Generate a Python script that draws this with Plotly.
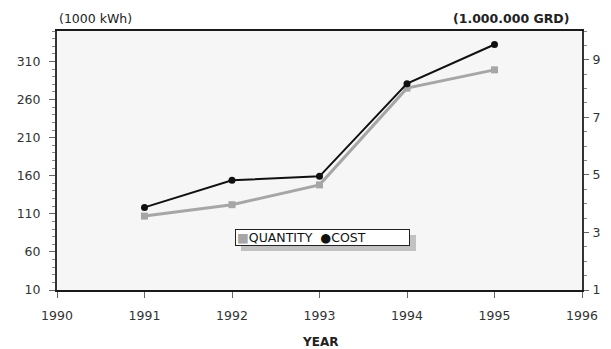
import plotly.graph_objects as go

years = [1991, 1992, 1993, 1994, 1995]
quantity = [107, 122, 148, 275, 299]      # 1000 kWh (left axis)
cost = [3.87, 4.81, 4.95, 8.17, 9.53]     # 1.000.000 GRD (right axis)
x_ticks = [1990, 1991, 1992, 1993, 1994, 1995, 1996]
left_ticks = [10, 60, 110, 160, 210, 260, 310]
right_ticks = [1, 3, 5, 7, 9]

font_family = "DejaVu Sans, Verdana, sans-serif"
gray = "#a6a6a6"
black = "#111111"

fig = go.Figure()
fig.add_trace(go.Scatter(
    x=years, y=quantity, name="QUANTITY", mode="lines+markers",
    line=dict(color=gray, width=3),
    marker=dict(symbol="square", size=7, color=gray),
    yaxis="y", showlegend=False))
fig.add_trace(go.Scatter(
    x=years, y=cost, name="COST", mode="lines+markers",
    line=dict(color=black, width=2),
    marker=dict(symbol="circle", size=7, color=black),
    yaxis="y2", showlegend=False))

tickfont = dict(family=font_family, size=12.5, color="#333333")

# The page body has an 8px margin, so the figure is sized/margined to compensate.
fig.update_layout(
    width=603, height=341,
    margin=dict(l=49, r=29, t=23, b=59, autoexpand=False),
    paper_bgcolor="white", plot_bgcolor="#f6f6f6",
    font=dict(family=font_family, size=12, color="#222222"),
    xaxis=dict(range=[1990, 1996], tickvals=x_ticks,
               ticktext=[str(v) for v in x_ticks],
               ticks="outside", ticklen=6, tickcolor="#666",
               ticklabelstandoff=7, automargin=False,
               showgrid=False, zeroline=False, showline=True,
               linecolor="#1a1a1a", linewidth=2, mirror=True,
               tickfont=tickfont),
    yaxis=dict(range=[10, 350], tickvals=left_ticks,
               ticks="outside", ticklen=6, tickcolor="#666",
               ticklabelstandoff=6, automargin=False,
               minor=dict(dtick=10, tick0=10, ticks="outside", ticklen=3, tickcolor="#888"),
               showgrid=False, zeroline=False, showline=True,
               linecolor="#333", linewidth=2, mirror=True,
               tickfont=tickfont),
    yaxis2=dict(range=[1, 10], tickvals=right_ticks, overlaying="y", side="right",
                ticks="outside", ticklen=5, tickcolor="#666",
                ticklabelstandoff=1, automargin=False,
                minor=dict(dtick=0.5, tick0=1, ticks="outside", ticklen=3, tickcolor="#888"),
                showgrid=False, zeroline=False, showline=True,
                linecolor="#333", linewidth=2,
                tickfont=tickfont),
    showlegend=False,
)

# legend drop shadow
fig.add_shape(type="rect", xref="paper", yref="paper",
              x0=(241 - 57) / 525, x1=(416 - 57) / 525,
              y0=(290 - 251) / 259, y1=(290 - 235) / 259,
              fillcolor="#c2c2c2", line=dict(width=0), layer="above")

legend_text = (f'<span style="color:{gray}">■</span>QUANTITY&nbsp;&nbsp;'
               f'<span style="color:{black}">●</span>COST')
fig.add_annotation(text=legend_text, xref="paper", yref="paper",
                   x=(322.5 - 57) / 525, y=(290 - 237) / 259,
                   xanchor="center", yanchor="middle",
                   width=171, height=13, align="left", valign="middle",
                   bgcolor="white", bordercolor="#222", borderwidth=1, borderpad=1,
                   showarrow=False, font=dict(family=font_family, size=12.5, color="#111"))

fig.add_annotation(text="(1000 kWh)", xref="paper", yref="paper",
                   x=0.0, y=1.05, xanchor="left", yanchor="middle",
                   showarrow=False, font=dict(family=font_family, size=12.5, color="#222"))
fig.add_annotation(text="<b>(1.000.000 GRD)</b>", xref="paper", yref="paper",
                   x=(571 - 57) / 525, y=1.05, xanchor="right", yanchor="middle",
                   showarrow=False, font=dict(family=font_family, size=12.5, color="#222"))
fig.add_annotation(text="<b>YEAR</b>", xref="paper", yref="paper",
                   x=0.5, y=-0.2, xanchor="center", yanchor="middle",
                   showarrow=False, font=dict(family=font_family, size=12, color="#222"))

fig.write_html("out.html")
